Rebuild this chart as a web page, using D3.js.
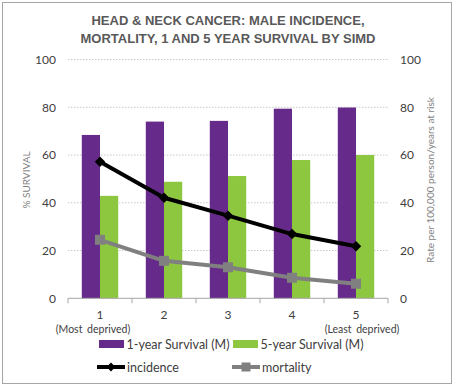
<!DOCTYPE html>
<html><head><meta charset="utf-8">
<script src="https://cdn.jsdelivr.net/npm/d3@7"></script>
<style>
html,body{margin:0;padding:0;background:#fff;}
svg{display:block;}
</style></head>
<body>
<svg id="chart" width="454" height="386"></svg>
<script>
(function(){
const categories = ["1","2","3","4","5"];
const subLabels = ["(Most deprived)","","","","(Least deprived)"];
const survival1 = [68.4, 74.0, 74.3, 79.4, 79.9];
const survival5 = [42.9, 48.8, 51.2, 57.9, 60.0];
const incidence = [57.2, 42.1, 34.6, 26.9, 21.8];
const mortality = [24.5, 15.7, 13.0, 8.6, 6.1];
const yTicks = [0, 20, 40, 60, 80, 100];
const seriesNames = ["1-year Survival (M)", "5-year Survival (M)"];
const lineNames = ["incidence", "mortality"];

const purple = "#662a8a", green = "#8dc63f", black = "#000000", grey = "#808080";
const font = "Lato, 'Open Sans', sans-serif";

const svg = d3.select("#chart");
svg.append("rect").attr("x", 2.5).attr("y", 2.5).attr("width", 449).attr("height", 381)
  .attr("fill", "#fff").attr("stroke", "#a6a6a6").attr("stroke-width", 1);

// title
const title = svg.append("text").attr("text-anchor", "middle")
  .attr("font-family", "'Liberation Sans', Arial, sans-serif").attr("font-weight", "bold")
  .attr("font-size", 13).attr("fill", "#595959");
title.append("tspan").attr("x", 228).attr("y", 25).text("HEAD & NECK CANCER: MALE INCIDENCE,");
title.append("tspan").attr("x", 228).attr("y", 43).text("MORTALITY, 1 AND 5 YEAR SURVIVAL BY SIMD");

const mLeft = 68, mRight = 388, mTop = 59.5, mBottom = 298.3;
const x = d3.scaleBand().domain(categories).range([mLeft, mRight]).padding(0);
const xs = d3.scaleBand().domain(seriesNames).range([0, x.bandwidth()]).paddingInner(0).paddingOuter(0.758);
const y = d3.scaleLinear().domain([0, 100]).range([mBottom, mTop]);
const y2 = d3.scaleLinear().domain([0, 100]).range([mBottom, mTop]);

// gridlines
svg.append("g").selectAll("line").data(yTicks.filter(d => d > 0)).join("line")
  .attr("x1", mLeft).attr("x2", mRight).attr("y1", d => y(d)).attr("y2", d => y(d))
  .attr("stroke", "#c8c8c8").attr("stroke-width", 1).attr("stroke-dasharray", "1.5,1.5");

// left axis
const ay = svg.append("g").attr("transform", `translate(${mLeft - 12},0)`)
  .call(d3.axisLeft(y).tickValues(yTicks).tickSize(0).tickPadding(0));
ay.select(".domain").remove();
ay.selectAll("text").attr("font-family", font).attr("font-size", 12).attr("fill", "#404040");

const ay2 = svg.append("g").attr("transform", `translate(${mRight + 12},0)`)
  .call(d3.axisRight(y2).tickValues(yTicks).tickSize(0).tickPadding(0));
ay2.select(".domain").remove();
ay2.selectAll("text").attr("font-family", font).attr("font-size", 12).attr("fill", "#404040");

// axis titles
svg.append("text").attr("transform", `translate(30,180) rotate(-90)`).attr("text-anchor", "middle")
  .attr("font-family", font).attr("font-size", 10).attr("fill", "#7f7f7f").text("% SURVIVAL");
svg.append("text").attr("transform", `translate(434,180) rotate(-90)`).attr("text-anchor", "middle")
  .attr("font-family", font).attr("font-size", 10).attr("fill", "#7f7f7f").text("Rate per 100,000 person/years at risk");

// bars
const data = categories.map((c, i) => ({ c, vals: [survival1[i], survival5[i]] }));
const gBars = svg.append("g");
data.forEach(d => {
  seriesNames.forEach((s, j) => {
    gBars.append("rect")
      .attr("x", x(d.c) + xs(s)).attr("width", xs.bandwidth())
      .attr("y", y(d.vals[j])).attr("height", y(0) - y(d.vals[j]))
      .attr("fill", j === 0 ? purple : green);
  });
});

// bottom axis
const ax = svg.append("g").attr("transform", `translate(0,${mBottom})`);
ax.append("line").attr("x1", mLeft).attr("x2", mRight).attr("stroke", "#a6a6a6");
ax.selectAll("line.tick").data(d3.range(categories.length + 1)).join("line").attr("class", "tick")
  .attr("x1", i => mLeft + i * x.step()).attr("x2", i => mLeft + i * x.step())
  .attr("y1", 0).attr("y2", 5).attr("stroke", "#a6a6a6");
ax.selectAll("text.cat").data(categories).join("text").attr("class", "cat")
  .attr("x", d => x(d) + x.bandwidth() / 2).attr("y", 21).attr("text-anchor", "middle")
  .attr("font-family", font).attr("font-size", 12).attr("fill", "#404040").text(d => d);
const subOffset = [-7, 0, 0, 0, 6];
ax.selectAll("text.sub").data(subLabels).join("text").attr("class", "sub")
  .attr("x", (d, i) => x(categories[i]) + x.bandwidth() / 2 + subOffset[i]).attr("y", 34.5)
  .attr("text-anchor", "middle").attr("word-spacing", 2)
  .attr("font-family", font).attr("font-size", 10.5).attr("fill", "#404040").text(d => d);

// lines
const cx = c => x(c) + x.bandwidth() / 2;
const lineGen = d3.line().x(d => cx(d.c)).y(d => y2(d.v));
const incData = categories.map((c, i) => ({ c, v: incidence[i] }));
const morData = categories.map((c, i) => ({ c, v: mortality[i] }));
svg.append("path").datum(incData).attr("d", lineGen).attr("fill", "none")
  .attr("stroke", black).attr("stroke-width", 4).attr("stroke-linejoin", "round");
svg.append("g").selectAll("path").data(incData).join("path")
  .attr("d", d3.symbol(d3.symbolDiamond2, 70)).attr("transform", d => `translate(${cx(d.c)},${y2(d.v)})`)
  .attr("fill", black);
svg.append("path").datum(morData).attr("d", lineGen).attr("fill", "none")
  .attr("stroke", grey).attr("stroke-width", 4).attr("stroke-linejoin", "round");
svg.append("g").selectAll("rect").data(morData).join("rect")
  .attr("x", d => cx(d.c) - 5).attr("y", d => y2(d.v) - 5).attr("width", 10).attr("height", 10)
  .attr("fill", grey);

// legend
const lg = svg.append("g").attr("font-family", font).attr("font-size", 12.5).attr("fill", "#404040");
const barLeg = [{ x: 99, color: purple, name: seriesNames[0] }, { x: 233, color: green, name: seriesNames[1] }];
barLeg.forEach(b => {
  lg.append("rect").attr("x", b.x).attr("y", 340).attr("width", 25).attr("height", 8).attr("fill", b.color);
  lg.append("text").attr("x", b.x + 27.5).attr("y", 348.5).text(b.name);
});
const lineLeg = [{ x: 97, color: black, name: lineNames[0], marker: "diamond" }, { x: 232, color: grey, name: lineNames[1], marker: "square" }];
lineLeg.forEach(b => {
  lg.append("line").attr("x1", b.x).attr("x2", b.x + 28).attr("y1", 367).attr("y2", 367)
    .attr("stroke", b.color).attr("stroke-width", 4);
  if (b.marker === "diamond") {
    lg.append("path").attr("d", d3.symbol(d3.symbolDiamond2, 50)).attr("transform", `translate(${b.x + 14},367)`).attr("fill", b.color);
  } else {
    lg.append("rect").attr("x", b.x + 9.5).attr("y", 362.5).attr("width", 9).attr("height", 9).attr("fill", b.color);
  }
  lg.append("text").attr("x", b.x + 30).attr("y", 371.5).text(b.name);
});
})();
</script>
</body></html>
